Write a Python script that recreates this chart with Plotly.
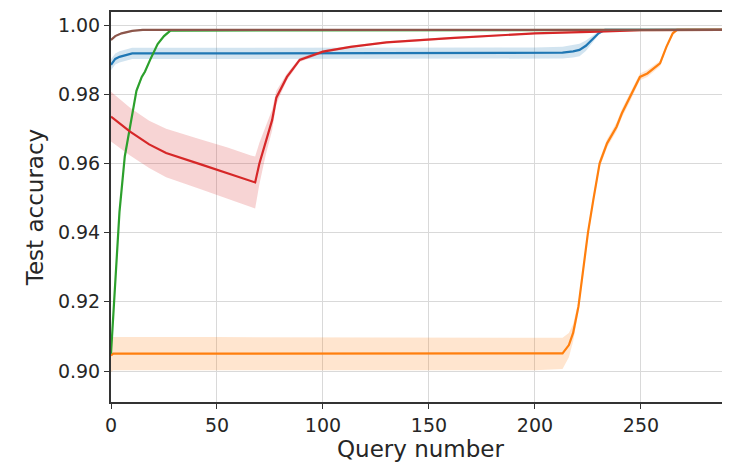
import numpy as np
import plotly.graph_objects as go

# ---- data ----
blue_x = [0, 1, 2, 4, 7, 10, 50, 100, 150, 200, 213, 218, 221, 224, 227, 230, 233, 292]
blue_y = [0.9885, 0.9895, 0.9902, 0.9908, 0.9914, 0.9918, 0.9918, 0.9918, 0.9918, 0.9919,
          0.9920, 0.9924, 0.9928, 0.9940, 0.9957, 0.9976, 0.9986, 0.9986]
blue_sd = [0.0016, 0.0016, 0.0016, 0.0016, 0.0016, 0.0016, 0.0016, 0.0016, 0.0016, 0.0016,
           0.0017, 0.0018, 0.0018, 0.0015, 0.0010, 0.0005, 0.0002, 0.0002]

orange_x = [0, 1, 50, 100, 150, 200, 213, 216, 218, 220.5, 223, 225, 227.5, 230.5, 234,
            238.5, 241, 245, 249.5, 253, 259, 262, 265, 267, 292]
orange_y = [0.9045, 0.9050, 0.9050, 0.9050, 0.9050, 0.9050, 0.9051, 0.9075, 0.9110, 0.9186,
            0.9300, 0.9400, 0.9494, 0.9600, 0.9658, 0.9706, 0.9745, 0.9793, 0.9850, 0.9860,
            0.9889, 0.9937, 0.9976, 0.9986, 0.9986]
orange_sd = [0.0048, 0.0048, 0.0048, 0.0048, 0.0048, 0.0048, 0.0045, 0.0035, 0.0025, 0.0015,
             0.0012, 0.0012, 0.0012, 0.0012, 0.0012, 0.0012, 0.0012, 0.0012, 0.0010, 0.0010,
             0.0008, 0.0006, 0.0003, 0.0001, 0.0001]

green_x = [0, 1, 2, 4, 6.5, 9, 12, 14.5, 16, 18.5, 22, 25, 28, 292]
green_y = [0.905, 0.915, 0.927, 0.946, 0.962, 0.971, 0.981, 0.985, 0.9865, 0.990,
           0.9945, 0.9968, 0.9984, 0.9986]
green_sd = [0.001, 0.001, 0.001, 0.001, 0.001, 0.001, 0.0008, 0.0006, 0.0005, 0.0004,
            0.0003, 0.0002, 0.0001, 0.0001]

red_x = [0, 3, 9, 18, 26, 42, 55, 66, 68, 70, 73, 76, 78, 80, 83, 89, 100, 113, 130, 160,
         200, 230, 250, 292]
red_y = [0.9735, 0.9720, 0.9692, 0.9655, 0.9630, 0.9598, 0.9572, 0.9548, 0.9545, 0.9600,
         0.9665, 0.9725, 0.9790, 0.9815, 0.9850, 0.9899, 0.9923, 0.9937, 0.9950, 0.9962,
         0.9976, 0.9981, 0.9985, 0.9986]
red_sd = [0.0072, 0.0071, 0.0069, 0.0068, 0.0070, 0.0072, 0.0074, 0.0075, 0.0075, 0.0060,
          0.0040, 0.0030, 0.0020, 0.0015, 0.0010, 0.0006, 0.0004, 0.0003, 0.0003, 0.0003,
          0.0002, 0.0002, 0.0001, 0.0001]

brown_x = [0, 2, 5, 10, 15, 25, 292]
brown_y = [0.9957, 0.9968, 0.9976, 0.9983, 0.9986, 0.9986, 0.9986]
brown_sd = [0.0004, 0.0003, 0.0003, 0.0002, 0.0001, 0.0001, 0.0001]

series = [
    (blue_x, blue_y, blue_sd, "#1f77b4", "rgba(31,119,180,0.2)"),
    (orange_x, orange_y, orange_sd, "#ff7f0e", "rgba(255,127,14,0.2)"),
    (green_x, green_y, green_sd, "#2ca02c", "rgba(44,160,44,0.2)"),
    (red_x, red_y, red_sd, "#d62728", "rgba(214,39,40,0.2)"),
    (brown_x, brown_y, brown_sd, "#8c564b", "rgba(140,86,75,0.2)"),
]

x_ticks = [0, 50, 100, 150, 200, 250]
y_ticks = [0.90, 0.92, 0.94, 0.96, 0.98, 1.00]
y_tick_text = ["0.90", "0.92", "0.94", "0.96", "0.98", "1.00"]

fig = go.Figure()
for xs, ys, sds, col, fill in series:
    xs = np.array(xs, dtype=float)
    ys = np.array(ys)
    sds = np.array(sds)
    fig.add_trace(go.Scatter(x=xs, y=ys + sds, mode="lines", line=dict(width=0),
                             hoverinfo="skip", showlegend=False))
    fig.add_trace(go.Scatter(x=xs, y=ys - sds, mode="lines", line=dict(width=0),
                             fill="tonexty", fillcolor=fill, hoverinfo="skip",
                             showlegend=False))
for xs, ys, sds, col, fill in series:
    fig.add_trace(go.Scatter(x=xs, y=ys, mode="lines", line=dict(color=col, width=2.2),
                             showlegend=False))

font = dict(family="DejaVu Sans", size=19, color="#262626")
# page body has an 8px margin, so the figure is 8px smaller and shifted
fig.update_layout(
    width=722, height=454,
    margin=dict(l=103, r=0, t=4, b=60),
    paper_bgcolor="white", plot_bgcolor="white",
    font=font, showlegend=False,
)
fig.update_xaxes(
    range=[0, 292], tickvals=x_ticks, ticks="outside", ticklen=5, tickcolor="#333",
    showline=True, linecolor="#333", linewidth=2, mirror=True, automargin=False,
    showgrid=True, gridcolor="#d9d9d9", gridwidth=1, zeroline=False,
    title=dict(text="Query number", standoff=2), tickfont=font,
)
fig.update_yaxes(
    range=[0.89104, 1.00376], tickvals=y_ticks, ticktext=y_tick_text, ticks="outside",
    ticklen=5, tickcolor="#333", automargin=False,
    showline=True, linecolor="#333", linewidth=2, mirror=False,
    showgrid=True, gridcolor="#d9d9d9", gridwidth=1, zeroline=False,
    title=dict(text="Test accuracy", standoff=8), tickfont=font,
)
fig.write_html("out.html")
